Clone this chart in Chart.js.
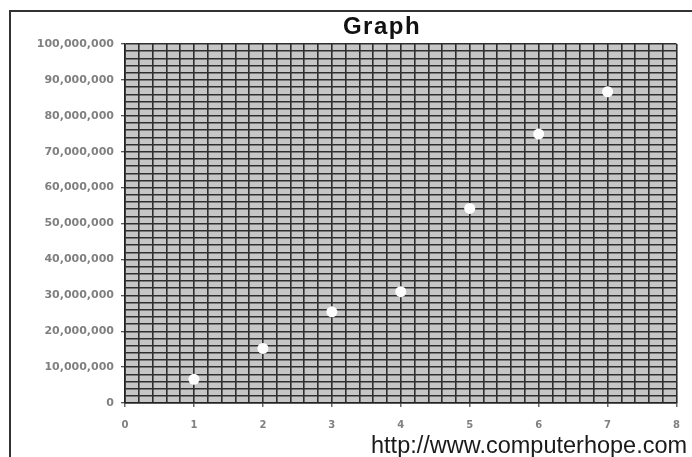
<!DOCTYPE html>
<html>
<head>
<meta charset="utf-8">
<script src="https://cdn.jsdelivr.net/npm/chart.js@4.4.0/dist/chart.umd.min.js"></script>
<style>
  html, body { margin: 0; padding: 0; background: #ffffff; }
  #wrap { width: 692px; height: 457px; position: relative; }
</style>
</head>
<body>
<div id="wrap"><canvas id="c" width="692" height="457"></canvas></div>
<script>
// ---- data ----
const xValues = [1, 2, 3, 4, 5, 6, 7];
const yValues = [6600000, 15200000, 25400000, 31000000, 54200000, 74900000, 86700000];
const xMajorTicks = [0, 1, 2, 3, 4, 5, 6, 7, 8];
const yMajorTicks = [0, 10000000, 20000000, 30000000, 40000000, 50000000, 60000000, 70000000, 80000000, 90000000, 100000000];
const chartTitle = 'Graph';
const watermark = 'http://www.computerhope.com';

const points = xValues.map((x, i) => ({ x: x, y: yValues[i] }));

const isMajorX = v => xMajorTicks.some(t => Math.abs(t - v) < 1e-6);
const isMajorY = v => yMajorTicks.some(t => Math.abs(t - v) < 1);

const GRID = '#2e2e2e';

const decor = {
  id: 'decor',
  beforeDraw(chart) {
    const { ctx, chartArea: a } = chart;
    ctx.save();
    ctx.fillStyle = '#c6c6c6';
    ctx.fillRect(a.left, a.top, a.right - a.left, a.bottom - a.top);
    ctx.restore();
  },
  afterDraw(chart) {
    const ctx = chart.ctx;
    ctx.save();
    // frame
    ctx.strokeStyle = '#333333';
    ctx.lineWidth = 2;
    ctx.beginPath();
    ctx.moveTo(10, 457);
    ctx.lineTo(10, 11);
    ctx.lineTo(692, 11);
    ctx.stroke();
    // title
    ctx.fillStyle = '#111111';
    ctx.font = 'bold 24px "Liberation Sans", Arial, sans-serif';
    if ('letterSpacing' in ctx) ctx.letterSpacing = '1.5px';
    ctx.textAlign = 'center';
    ctx.textBaseline = 'alphabetic';
    ctx.fillText(chartTitle, 382, 34);
    if ('letterSpacing' in ctx) ctx.letterSpacing = '0px';
    // watermark
    ctx.font = '23.5px "Liberation Sans", Arial, sans-serif';
    ctx.textAlign = 'left';
    ctx.fillStyle = '#1a1a1a';
    ctx.fillText(watermark, 371, 453);
    ctx.restore();
  }
};

new Chart(document.getElementById('c'), {
  type: 'scatter',
  data: {
    datasets: [{
      data: points,
      backgroundColor: '#ffffff',
      borderColor: '#ffffff',
      borderWidth: 0,
      pointRadius: 5.5,
      pointHoverRadius: 5.5
    }]
  },
  options: {
    responsive: false,
    animation: false,
    layout: { padding: { left: 0, right: 14, top: 44, bottom: 0 } },
    plugins: {
      legend: { display: false },
      title: { display: false },
      tooltip: { enabled: false }
    },
    scales: {
      x: {
        type: 'linear',
        min: 0,
        max: 8,
        afterFit(scale) { scale.height = 54; },
        ticks: {
          stepSize: 0.2,
          autoSkip: false,
          maxRotation: 0,
          padding: 12,
          color: '#808080',
          font: { family: '"DejaVu Sans", Verdana, sans-serif', size: 10, weight: 'bold' },
          callback: v => (isMajorX(v) ? String(Math.round(v)) : '')
        },
        grid: {
          color: GRID,
          lineWidth: 1.6,
          tickLength: 4,
          tickWidth: 1.2,
          tickColor: ctx => (ctx.tick && isMajorX(ctx.tick.value) ? '#444444' : 'rgba(0,0,0,0)')
        },
        border: { color: '#222222', width: 1.6 }
      },
      y: {
        type: 'linear',
        min: 0,
        max: 100000000,
        afterFit(scale) { scale.width = 125; },
        ticks: {
          stepSize: 2000000,
          autoSkip: false,
          padding: 7,
          color: '#808080',
          font: { family: '"DejaVu Sans", Verdana, sans-serif', size: 11, weight: 'bold' },
          callback: v => (isMajorY(v) ? Math.round(v).toLocaleString('en-US') : '')
        },
        grid: {
          color: GRID,
          lineWidth: 1.4,
          tickLength: 4,
          tickWidth: 1.2,
          tickColor: ctx => (ctx.tick && isMajorY(ctx.tick.value) ? '#444444' : 'rgba(0,0,0,0)')
        },
        border: { color: '#222222', width: 1.6 }
      }
    }
  },
  plugins: [decor]
});
</script>
</body>
</html>
